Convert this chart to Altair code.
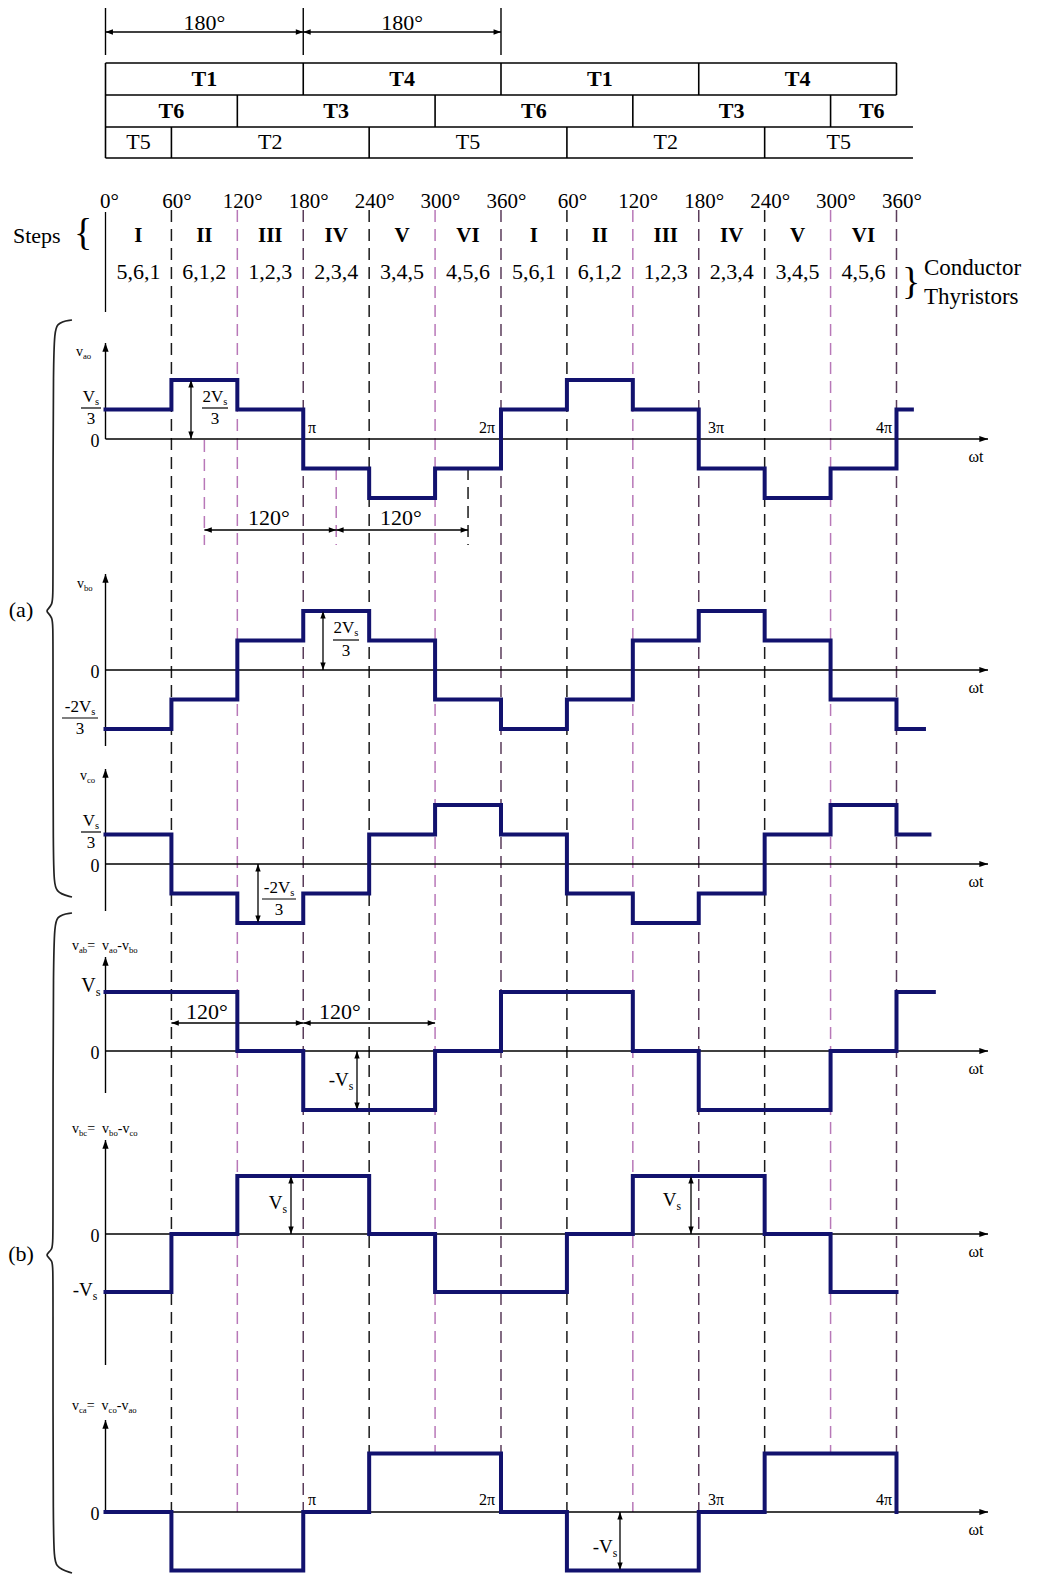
import altair as alt
import pandas as pd

# ---------------- data ----------------
ANG = [0, 60, 120, 180, 240, 300, 360, 420, 480, 540, 600, 660, 720]
DEG_LABELS = ["0°", "60°", "120°", "180°", "240°", "300°", "360°",
              "60°", "120°", "180°", "240°", "300°", "360°"]
STEPS = ["I", "II", "III", "IV", "V", "VI"] * 2
CONDUCT = ["5,6,1", "6,1,2", "1,2,3", "2,3,4", "3,4,5", "4,5,6"] * 2
ROW1 = [("T1", 0, 180), ("T4", 180, 360), ("T1", 360, 540), ("T4", 540, 720)]
ROW2 = [("T6", 0, 120), ("T3", 120, 300), ("T6", 300, 480), ("T3", 480, 660), ("T6", 660, 735)]
ROW3 = [("T5", 0, 60), ("T2", 60, 240), ("T5", 240, 420), ("T2", 420, 600), ("T5", 600, 735)]

# phase voltages in units of Vs/3 (one value per 60 deg step)
VAO = [1, 2, 1, -1, -2, -1, 1, 2, 1, -1, -2, -1]
VBO = [-2, -1, 1, 2, 1, -1, -2, -1, 1, 2, 1, -1]
VCO = [1, -1, -2, -1, 1, 2, 1, -1, -2, -1, 1, 2]
# line voltages in units of Vs
VAB = [1, 1, 0, -1, -1, 0, 1, 1, 0, -1, -1, 0]
VBC = [-1, 0, 1, 1, 0, -1, -1, 0, 1, 1, 0, -1]
VCA = [0, -1, -1, 0, 1, 1, 0, -1, -1, 0, 1, 1]

# ---------------- layout helpers ----------------
X0, PXD = 105.5, 1.0986          # page px of 0 deg, px per degree
W, H = 1029, 1566
def D(px):
    return (px - X0) / PXD
XS = alt.Scale(domain=[D(8), D(8 + W)], nice=False, zero=False)
YS = alt.Scale(domain=[8, 8 + H], reverse=True, nice=False, zero=False)
AX_END = D(988)
NAVY = "#12126e"
PINK = "#b878b8"
PURP = "#5a3c5a"

PANELS = [
    dict(name="vao", lv=VAO, base=439, unit=29.5, tail=(734, 1), top=343, bot=439),
    dict(name="vbo", lv=VBO, base=670, unit=29.5, tail=(745, -2), top=574, bot=746),
    dict(name="vco", lv=VCO, base=864, unit=29.5, tail=(750, 1), top=769, bot=911),
    dict(name="vab", lv=VAB, base=1051, unit=59, tail=(754, 1), top=957, bot=1093),
    dict(name="vbc", lv=VBC, base=1234, unit=58, tail=(720, -1), top=1140, bot=1365),
    dict(name="vca", lv=VCA, base=1512, unit=58.5, tail=(720, 0), top=1420, bot=1512),
]

texts, rules, heads, dashes = [], [], [], []

def Td(deg, y, s, size=21, weight="normal", align="center"):
    texts.append(dict(x=deg, y=y, t=s, size=size, weight=weight, align=align))

def Tp(px, y, s, size=21, weight="normal", align="center"):
    Td(D(px), y, s, size, weight, align)

def R(x1, y1, x2, y2, w=1.2):
    rules.append(dict(x=x1, x2=x2, y=y1, y2=y2, w=w))

def A(deg, y, d, s=196):
    heads.append(dict(x=deg, y=y, d=d, s=s))

CW = {'V': .722, 'v': .5, 'a': .444, 'b': .5, 'c': .444, 'o': .5, 's': .389,
      '2': .5, '3': .5, '-': .333, '=': .564, ' ': .25}

def rich(px, y, parts, size, align="center"):
    sub = 0.62
    ws = [sum(CW.get(c, .5) for c in t) * size * (sub if s else 1) for t, s in parts]
    x = px - sum(ws) / 2 if align == "center" else px
    for (t, s), w in zip(parts, ws):
        Tp(x, y + (0.3 * size if s else 0), t, size * (sub if s else 1), align="left")
        x += w

def frac(px, yn, yb, yd, parts, size, bw):
    rich(px, yn, parts, size)
    R(D(px - bw / 2), yb, D(px + bw / 2), yb, 1.2)
    Tp(px, yd, "3", size)

def vdim(deg, y1, y2):
    R(deg, y1, deg, y2, 1.3)
    A(deg, y1, "up", 220)
    A(deg, y2, "down", 220)

def hdim(a, b, y):
    R(a, y, b, y, 1.3)
    A(a, y, "left", 220)
    A(b, y, "right", 220)

# ---------------- header ----------------
for a in (0, 180, 360):
    R(a, 8, a, 55, 1.4)
hdim(0, 180, 32)
hdim(180, 360, 32)
Td(90, 23, "180°", 22)
Td(270, 23, "180°", 22)

for y in (63, 95):
    R(0, y, 720, y, 1.6)
for y in (127, 158):
    R(0, y, 735, y, 1.6)
R(0, 63, 0, 158, 1.6)
for _, a, b in ROW1:
    R(b, 63, b, 95, 1.6)
for _, a, b in ROW2[:-1]:
    R(b, 95, b, 127, 1.6)
for _, a, b in ROW3[:-1]:
    R(b, 127, b, 158, 1.6)
for n, a, b in ROW1:
    Td((a + b) / 2, 79, n, 22, "bold")
for n, a, b in ROW2:
    Td((a + b) / 2, 111, n, 22, "bold")
for n, a, b in ROW3:
    Td((a + b) / 2, 142, n, 22)

for a, lab in zip(ANG, DEG_LABELS):
    if a == 0:
        Tp(100, 202, lab, 21, align="left")
    else:
        Td(a + 5, 202, lab, 21)
for i, (s, c) in enumerate(zip(STEPS, CONDUCT)):
    Td(ANG[i] + 30, 236, s, 21, "bold")
    Td(ANG[i] + 30, 272, c, 22)
R(0, 212, 0, 312, 1.3)
Tp(13, 236, "Steps", 22, align="left")
Tp(83, 234, "{", 38)
Tp(911, 283, "}", 38)
Tp(924, 268, "Conductor", 23, align="left")
Tp(924, 297, "Thyristors", 23, align="left")

# dashed guide lines
GRID_COL = [PINK if a % 180 == 120 else (PURP if a % 180 == 0 else "#1a1a1a") for a in ANG[1:]]
GRID_END = [1452 if a in (240, 300, 360, 600, 660, 720) else 1512 for a in ANG[1:]]
for a, c, e in zip(ANG[1:], GRID_COL, GRID_END):
    dashes.append(dict(x=a, y=210, y2=e, c=c))
dashes.append(dict(x=90, y=440, y2=545, c=PINK))
dashes.append(dict(x=210, y=468, y2=545, c=PINK))
dashes.append(dict(x=330, y=468, y2=545, c="#1a1a1a"))

# ---------------- panels ----------------
wave = []
for p in PANELS:
    pts = []
    for i, lv in enumerate(p["lv"]):
        pts += [(ANG[i], lv), (ANG[i + 1], lv)]
    pts += [(720, p["tail"][1]), (p["tail"][0], p["tail"][1])]
    for k, (a, lv) in enumerate(pts):
        wave.append(dict(panel=p["name"], k=k, x=a, y=p["base"] - lv * p["unit"]))
    R(0, p["top"], 0, p["bot"], 1.4)
    A(0, p["top"], "up", 300)
    R(0, p["base"], AX_END, p["base"], 1.4)
    A(AX_END, p["base"], "right", 300)
    Tp(95, p["base"] + 3, "0", 18)
    Tp(976, p["base"] + 18, "ωt", 16)

# axis names
rich(76, 352, [("v", 0), ("ao", 1)], 14, "left")
rich(77, 584, [("v", 0), ("bo", 1)], 14, "left")
rich(80, 776, [("v", 0), ("co", 1)], 14, "left")
rich(72, 946, [("v", 0), ("ab", 1), (" = ", 0), ("v", 0), ("ao", 1), ("-", 0), ("v", 0), ("bo", 1)], 14, "left")
rich(72, 1129, [("v", 0), ("bc", 1), (" = ", 0), ("v", 0), ("bo", 1), ("-", 0), ("v", 0), ("co", 1)], 14, "left")
rich(72, 1406, [("v", 0), ("ca", 1), (" = ", 0), ("v", 0), ("co", 1), ("-", 0), ("v", 0), ("ao", 1)], 14, "left")

# level labels
frac(91, 397, 408, 419, [("V", 0), ("s", 1)], 17, 20)
frac(215, 397, 408, 419, [("2V", 0), ("s", 1)], 17, 26)
frac(80, 707, 718, 729, [("-2V", 0), ("s", 1)], 17, 36)
frac(346, 628, 640, 651, [("2V", 0), ("s", 1)], 17, 26)
frac(91, 821, 832, 843, [("V", 0), ("s", 1)], 17, 20)
frac(279, 888, 899, 910, [("-2V", 0), ("s", 1)], 17, 34)
rich(91, 986, [("V", 0), ("s", 1)], 20)
rich(341, 1080, [("-V", 0), ("s", 1)], 19)
rich(278, 1203, [("V", 0), ("s", 1)], 19)
rich(672, 1200, [("V", 0), ("s", 1)], 19)
rich(85, 1290, [("-V", 0), ("s", 1)], 19)
rich(605, 1547, [("-V", 0), ("s", 1)], 19)

for yy in (428, 1500):
    Tp(312, yy, "π", 16)
    Tp(487, yy, "2π", 16)
    Tp(716, yy, "3π", 16)
    Tp(884, yy, "4π", 16)

# dimension arrows
vdim(D(191), 380, 439)
vdim(D(323), 611, 670)
vdim(D(258), 864, 923)
vdim(D(357), 1051, 1110)
vdim(D(291), 1176, 1234)
vdim(D(691), 1176, 1234)
vdim(D(620), 1512, 1570)
hdim(90, 210, 530)
hdim(210, 330, 530)
Tp(269, 518, "120°", 22)
Tp(401, 518, "120°", 22)
hdim(60, 180, 1023)
hdim(180, 300, 1023)
Tp(207, 1012, "120°", 22)
Tp(340, 1012, "120°", 22)

Tp(21, 610, "(a)", 22)
Tp(21, 1254, "(b)", 22)

# braces
BRACE_A = [(72, 320), (56, 322), (53, 340), (53, 590), (53, 606), (44, 611), (53, 616),
           (53, 632), (53, 875), (55, 893), (72, 897)]
BRACE_B = [(72, 913), (56, 915), (53, 933), (53, 1238), (53, 1250), (44, 1255), (53, 1260),
           (53, 1272), (53, 1550), (55, 1568), (72, 1573)]
brace = []
for bname, pts in (("a", BRACE_A), ("b", BRACE_B)):
    for k, (px, py) in enumerate(pts):
        brace.append(dict(b=bname, k=k, x=D(px), y=py))

# ---------------- chart ----------------
X = lambda f="x": alt.X(f + ":Q", scale=XS, axis=None)
Y = lambda f="y": alt.Y(f + ":Q", scale=YS, axis=None)

dash_layer = alt.Chart(pd.DataFrame(dashes)).mark_rule(strokeDash=[12, 7], strokeWidth=1.5).encode(
    x=X(), y=Y(), y2="y2:Q", color=alt.Color("c:N", scale=None))

rule_layer = alt.Chart(pd.DataFrame(rules)).mark_rule(color="black").encode(
    x=X(), x2="x2:Q", y=Y(), y2="y2:Q", strokeWidth=alt.StrokeWidth("w:Q", scale=None))

wave_layer = alt.Chart(pd.DataFrame(wave)).mark_line(
    strokeWidth=4, color=NAVY, strokeJoin="miter", strokeCap="square").encode(
    x=X(), y=Y(), detail="panel:N", order="k:Q")

brace_layer = alt.Chart(pd.DataFrame(brace)).mark_line(
    interpolate="basis", strokeWidth=1.7, color="#222").encode(
    x=X(), y=Y(), detail="b:N", order="k:Q")

P_UP = "M0,0L-0.36,1L0.36,1Z"
P_DOWN = "M0,0L-0.36,-1L0.36,-1Z"
P_LEFT = "M0,0L1,-0.36L1,0.36Z"
P_RIGHT = "M0,0L-1,-0.36L-1,0.36Z"
head_layer = alt.Chart(pd.DataFrame(heads)).mark_point(filled=True, opacity=1, color="black").encode(
    x=X(), y=Y(),
    shape=alt.Shape("d:N", scale=alt.Scale(domain=["up", "down", "left", "right"],
                                           range=[P_UP, P_DOWN, P_LEFT, P_RIGHT]), legend=None),
    size=alt.Size("s:Q", scale=None))

tdf = pd.DataFrame(texts)
text_layers = []
for (al, wt), g in tdf.groupby(["align", "weight"]):
    text_layers.append(
        alt.Chart(g).mark_text(align=al, baseline="middle", font="Liberation Serif",
                               fontWeight=wt, color="black").encode(
            x=X(), y=Y(), text="t:N", size=alt.Size("size:Q", scale=None)))

chart = alt.layer(dash_layer, rule_layer, wave_layer, brace_layer, head_layer, *text_layers).properties(
    width=W, height=H, padding=0, autosize="none").configure_view(stroke=None)

chart.save("out.html", embed_options={"renderer": "svg", "actions": False})
